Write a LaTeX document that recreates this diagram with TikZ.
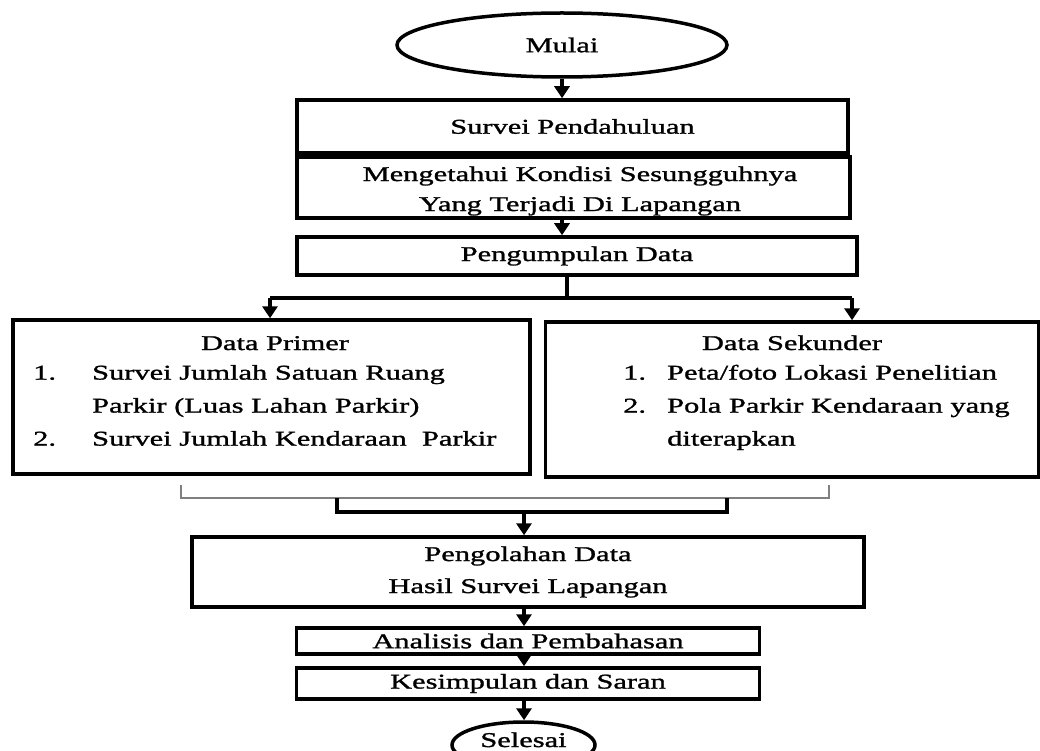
\documentclass[tikz,border=0pt]{standalone}
\usepackage{fontspec}
\setmainfont{Liberation Serif}[FakeStretch=1.45,FakeBold=1.3]
\usetikzlibrary{shapes.geometric,arrows.meta}
\tikzset{
    kotak/.style={draw,line width=3.5pt,rectangle,inner sep=0pt,align=center},
    bulat/.style={draw,line width=3.5pt,ellipse,inner sep=0pt},
    garis/.style={line width=3.5pt},
    panah/.style={line width=3.5pt,-{Triangle[length=12pt,width=15pt]}},
}
\newcommand\Panah[2]{%
    \draw[panah] (#1.south) -- (#1.south |- #2.north);
}
\newcommand\Nomor[2]{\makebox[#1pt][l]{#2}}

\begin{document}
\begin{tikzpicture}[x=1pt,y=-1pt,font=\fontsize{21}{33}\selectfont]
    \useasboundingbox (0,0) rectangle (1040,751);
    % alur atas
    \node[bulat,minimum width=330pt,minimum height=64pt] (Mulai) at (562,45) {Mulai};
    \node[kotak,minimum width=551pt,minimum height=53pt] (Survei) at (572.5,126.5) {Survei Pendahuluan};
    \node[kotak,minimum width=553pt,minimum height=61pt] (Kondisi) at (573.5,187.5) {};
    \node[align=center,inner sep=0pt] (KondisiTeks) at (580,191)
        {Mengetahui Kondisi Sesungguhnya\\[-3pt] Yang Terjadi Di Lapangan};
    \node[kotak,minimum width=560pt,minimum height=38pt] (Kumpul) at (577,256) {Pengumpulan Data};
    \Panah{Mulai}{Survei}
    \draw[panah] (Kondisi.south -| Mulai) -- (Kumpul.north -| Mulai);
    % data primer dan sekunder
    \node[kotak,minimum width=517pt,minimum height=154pt] (Primer) at (271.5,397) {};
    \node[kotak,minimum width=493pt,minimum height=155pt] (Sekunder) at (792,399.5) {};
    \node[anchor=base] (PrimerJudul) at (275,350) {Data Primer};
    \node[anchor=west,inner sep=0pt] (PrimerIsi) at (33,406) {%
        \begin{tabular}{@{}l@{}l@{}}
            \Nomor{59}{1.} & Survei Jumlah Satuan Ruang\\
                           & Parkir (Luas Lahan Parkir)\\
            \Nomor{59}{2.} & Survei Jumlah Kendaraan\ \ Parkir
        \end{tabular}};
    \node[anchor=base] (SekunderJudul) at (792,350) {Data Sekunder};
    \node[anchor=west,inner sep=0pt] (SekunderIsi) at (623,406) {%
        \begin{tabular}{@{}l@{}l@{}}
            \Nomor{44}{1.} & Peta/foto Lokasi Penelitian\\
            \Nomor{44}{2.} & Pola Parkir Kendaraan yang\\
                           & diterapkan
        \end{tabular}};
    \coordinate (CabangKiri) at (270,298);
    \coordinate (CabangKanan) at (852,298);
    \draw[garis] (Kumpul.south -| 567,0) -- (CabangKiri -| 567,0);
    \draw[garis] (CabangKiri) -- (CabangKanan);
    \draw[panah] (CabangKiri) -- (CabangKiri |- Primer.north);
    \draw[panah] (CabangKanan) -- (CabangKanan |- Sekunder.north);
    % penggabungan
    \draw[line width=1.5pt,gray] (181,485) -- (181,498) -- (829,498) -- (829,485);
    \draw[garis] (337,498) -- (337,512) -- (727,512) -- (727,498);
    \coordinate (Gabung) at (524,512);
    % alur bawah
    \node[kotak,minimum width=672pt,minimum height=70pt] (Olah) at (528,572)
        {Pengolahan Data\\[-1pt] Hasil Survei Lapangan};
    \node[kotak,minimum width=463pt,minimum height=26pt] (Analisis) at (528,641) {Analisis dan Pembahasan};
    \node[kotak,minimum width=463pt,minimum height=31pt] (Simpul) at (528,683.5) {Kesimpulan dan Saran};
    \node[bulat,minimum width=143pt,minimum height=46pt] (Selesai) at (523.5,745) {};
    \node[anchor=base,inner sep=0pt] (SelesaiTeks) at (523.5,747) {Selesai};
    \draw[panah] (Gabung) -- (Gabung |- Olah.north);
    \draw[panah] (Olah.south -| Gabung) -- (Analisis.north -| Gabung);
    \draw[panah] (Analisis.south -| Gabung) -- (Simpul.north -| Gabung);
    \draw[panah] (Simpul.south -| Gabung) -- (Selesai.north -| Gabung);
\end{tikzpicture}
\end{document}
